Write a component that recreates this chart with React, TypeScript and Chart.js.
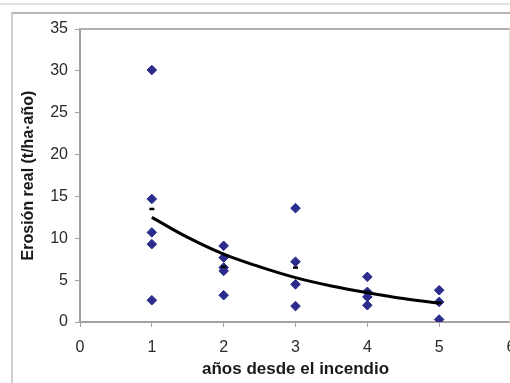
import React, { useEffect, useRef } from "react";
import { Chart, registerables } from "chart.js";

Chart.register(...registerables);

// Observed erosion values (years since fire, t/ha·año)
const obsYears = [1, 1, 1, 1, 1, 2, 2, 2, 2, 2, 3, 3, 3, 3, 4, 4, 4, 4, 5, 5, 5];
const obsErosion = [30.1, 14.7, 10.7, 9.3, 2.6, 9.1, 7.7, 6.5, 6.1, 3.2, 13.6, 7.2, 4.5, 1.9, 5.4, 3.6, 3.0, 2.0, 3.8, 2.4, 0.3];

// Mean markers (small black dashes)
const meanYears = [1, 2, 3, 4, 5];
const meanErosion = [13.5, 6.6, 6.5, 3.6, 2.3];

// Trend line
const trendYears = [1, 1.5, 2, 2.5, 3, 3.5, 4, 4.5, 5];
const trendErosion = [12.5, 10.1, 8.1, 6.6, 5.3, 4.3, 3.5, 2.8, 2.25];

const xTicks = [0, 1, 2, 3, 4, 5, 6];
const yTicks = [0, 5, 10, 15, 20, 25, 30, 35];

const xTitle = "años desde el incendio";
const yTitle = "Erosión real (t/ha·año)";

const pts = (xs: number[], ys: number[]) => xs.map((x, i) => ({ x, y: ys[i] }));

const areaBorderPlugin = {
  id: "areaBorder",
  afterDraw(chart: any) {
    const ctx = chart.ctx;
    const a = chart.chartArea;
    ctx.save();
    ctx.strokeStyle = "#b3afaf";
    ctx.lineWidth = 2;
    ctx.beginPath();
    ctx.moveTo(a.left - 1, a.top);
    ctx.lineTo(chart.width, a.top);
    ctx.stroke();
    ctx.strokeStyle = "#dcdcdc";
    ctx.lineWidth = 1;
    ctx.beginPath();
    ctx.moveTo(509.5, a.top);
    ctx.lineTo(509.5, a.bottom);
    ctx.stroke();
    ctx.restore();
  },
};

export default function App() {
  const ref = useRef<HTMLCanvasElement>(null);

  useEffect(() => {
    if (!ref.current) return;
    const axisColor = "#a59f9f";
    const font = "'Liberation Sans', Arial, sans-serif";
    const chart = new Chart(ref.current, {
      type: "scatter",
      data: {
        datasets: [
          {
            label: "tendencia",
            data: pts(trendYears, trendErosion),
            showLine: true,
            borderColor: "#000000",
            borderWidth: 3,
            pointRadius: 0,
            tension: 0.4,
            order: 0,
          },
          {
            label: "media",
            data: pts(meanYears, meanErosion),
            pointStyle: "line",
            pointRadius: 2.5,
            borderColor: "#000000",
            borderWidth: 2.5,
            order: 1,
          },
          {
            label: "observado",
            data: pts(obsYears, obsErosion),
            pointStyle: "rectRot",
            pointRadius: 4.8,
            backgroundColor: "#2b2c8c",
            borderColor: "#2b2c8c",
            borderWidth: 1,
            order: 2,
          },
        ],
      },
      plugins: [areaBorderPlugin],
      options: {
        animation: false,
        responsive: false,
        devicePixelRatio: 1,
        layout: { padding: { top: 29, right: 9, left: 0, bottom: 0 } },
        plugins: {
          legend: { display: false },
          tooltip: { enabled: false },
        },
        scales: {
          x: {
            type: "linear",
            min: 0,
            max: 6,
            afterBuildTicks: (s: any) => {
              s.ticks = xTicks.map((v) => ({ value: v }));
            },
            afterFit: (s: any) => {
              s.height = 61;
              s.paddingLeft = 0;
              s.paddingRight = 0;
            },
            border: { color: axisColor, width: 2 },
            grid: { drawOnChartArea: false, tickLength: 5, color: axisColor, tickWidth: 1 },
            ticks: {
              padding: 11,
              color: "#2a2a2a",
              font: { family: font, size: 16 },
              maxRotation: 0,
            },
            title: {
              display: true,
              text: xTitle,
              color: "#1a1a1a",
              font: { family: font, size: 17, weight: "bold" },
              padding: { top: 0, bottom: 3 },
            },
          },
          y: {
            type: "linear",
            min: 0,
            max: 35,
            afterBuildTicks: (s: any) => {
              s.ticks = yTicks.map((v) => ({ value: v }));
            },
            afterFit: (s: any) => {
              s.width = 80;
              s.paddingTop = 0;
              s.paddingBottom = 0;
            },
            border: { color: axisColor, width: 2 },
            grid: { drawOnChartArea: false, tickLength: 5, color: axisColor, tickWidth: 1 },
            ticks: {
              padding: 7,
              color: "#2a2a2a",
              font: { family: font, size: 16 },
            },
            title: {
              display: true,
              text: yTitle,
              color: "#1a1a1a",
              font: { family: font, size: 16, weight: "bold" },
              padding: { top: 19, bottom: 0 },
            },
          },
        },
      },
    });
    return () => chart.destroy();
  }, []);

  return (
    <div style={{ position: "fixed", left: 0, top: 0, width: 510, height: 383, overflow: "hidden", background: "#fff" }}>
      <div style={{ position: "absolute", left: 0, top: 3, width: 510, height: 2, background: "#e3e3e3" }} />
      <div
        style={{
          position: "absolute",
          left: 11,
          top: 12,
          width: 520,
          height: 400,
          borderTop: "2px solid #b9b7b7",
          borderLeft: "2px solid #cfcfcf",
        }}
      />
      <canvas ref={ref} width={520} height={383} style={{ display: "block", position: "absolute", left: 0, top: 0 }} />
    </div>
  );
}
